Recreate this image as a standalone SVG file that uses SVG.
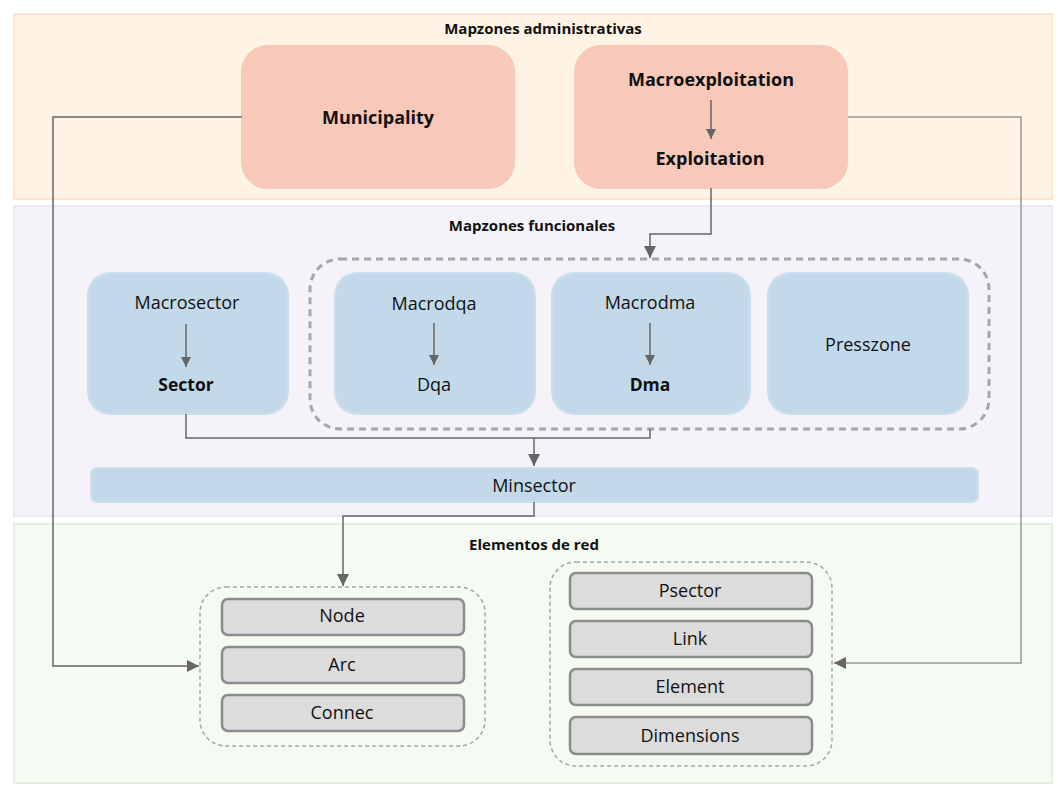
<svg xmlns="http://www.w3.org/2000/svg" width="1058" height="794" viewBox="0 0 1058 794">
<defs>
<marker id="ah" viewBox="0 0 10 10" refX="10" refY="5" markerWidth="10" markerHeight="10" markerUnits="userSpaceOnUse" orient="auto"><path d="M0,0 L10,5 L0,10 z" fill="#666"/></marker>
<marker id="ahs" viewBox="0 0 10 10" refX="10" refY="5" markerWidth="13" markerHeight="12" markerUnits="userSpaceOnUse" orient="auto"><path d="M0,0 L10,5 L0,10 z" fill="#666"/></marker>
<style>
text{font-family:"Open Sans","Liberation Sans",sans-serif;fill:#111;text-anchor:middle;dominant-baseline:central}
.title{font-size:15px;font-weight:bold}
.adm{fill:#f8c8b8;stroke:#f8c8b8;stroke-width:2}
.fun{fill:#c3d9ea;stroke:#cddfee;stroke-width:2}
.el{fill:#dcdcdc;stroke:#8c8c8c;stroke-width:2.5}
.dash{fill:none;stroke:#a6a6a6;stroke-width:3;stroke-dasharray:7 5}
.dash2{fill:none;stroke:#a6a6a6;stroke-width:1.5;stroke-dasharray:4 3}
.big{font-size:18px;font-weight:bold}
.n{font-size:18px}
.b{font-size:17.5px;font-weight:bold}
.c{fill:none;stroke:#666;stroke-width:1.5}
.cg{fill:none;stroke:#999;stroke-width:1.5}
</style>
</defs>
<g id="sec-adm">
<rect x="14" y="14" width="1038" height="185" fill="#fff3e5" stroke="#fde6cc" stroke-width="2"/>
<text class="title" x="543" y="28">Mapzones administrativas</text>
</g>
<g id="sec-fun">
<rect x="14" y="206" width="1038" height="310" fill="#f5f3f9" stroke="#ebe7f3" stroke-width="2"/>
<text class="title" x="532" y="225">Mapzones funcionales</text>
</g>
<g id="sec-red">
<rect x="14" y="524" width="1038" height="259" fill="#f5faf3" stroke="#e2f0dd" stroke-width="2"/>
<text class="title" x="534" y="544">Elementos de red</text>
</g>
<g id="municipality">
<rect class="adm" x="242" y="46" width="272" height="142" rx="26"/>
<text class="big" x="378" y="117">Municipality</text>
</g>
<g id="exploitation">
<rect class="adm" x="575" y="46" width="272" height="142" rx="26" stroke="#fcd3ad"/>
<text class="big" x="711" y="79">Macroexploitation</text>
<text class="big" x="710" y="158">Exploitation</text>
<line class="c" x1="711" y1="100" x2="711" y2="139" marker-end="url(#ah)"/>
</g>
<g id="sector">
<rect class="fun" x="88" y="273" width="200" height="141" rx="22"/>
<text class="n" x="187" y="302">Macrosector</text>
<text class="b" x="186" y="384">Sector</text>
<line class="c" x1="186" y1="324" x2="186" y2="367" marker-end="url(#ah)"/>
</g>
<g id="zones-group">
<rect class="dash" x="310" y="259" width="679" height="170" rx="30"/>
</g>
<g id="dqa">
<rect class="fun" x="335" y="273" width="200" height="141" rx="22"/>
<text class="n" x="434" y="303">Macrodqa</text>
<text class="n" x="434" y="384">Dqa</text>
<line class="c" x1="434" y1="323" x2="434" y2="365" marker-end="url(#ah)"/>
</g>
<g id="dma">
<rect class="fun" x="552" y="273" width="198" height="141" rx="22"/>
<text class="n" x="650" y="302">Macrodma</text>
<text class="b" x="650" y="384">Dma</text>
<line class="c" x1="650" y1="323" x2="650" y2="365" marker-end="url(#ah)"/>
</g>
<g id="presszone">
<rect class="fun" x="768" y="273" width="200" height="141" rx="22"/>
<text class="n" x="868" y="344">Presszone</text>
</g>
<g id="minsector">
<rect class="fun" x="91" y="468" width="887" height="34" rx="6"/>
<text class="n" x="534" y="485">Minsector</text>
</g>
<g id="elements-left">
<rect class="dash2" x="200" y="587" width="285" height="159" rx="26"/>
</g>
<g id="node"><rect class="el" x="222" y="599" width="242" height="36" rx="6"/><text class="n" x="342" y="615">Node</text></g>
<g id="arc"><rect class="el" x="222" y="647" width="242" height="36" rx="6"/><text class="n" x="342" y="664">Arc</text></g>
<g id="connec"><rect class="el" x="222" y="695" width="242" height="36" rx="6"/><text class="n" x="342" y="712">Connec</text></g>
<g id="elements-right">
<rect class="dash2" x="550" y="562" width="282" height="204" rx="26"/>
</g>
<g id="psector"><rect class="el" x="570" y="573" width="242" height="36" rx="6"/><text class="n" x="690" y="590">Psector</text></g>
<g id="link"><rect class="el" x="570" y="621" width="242" height="36" rx="6"/><text class="n" x="690" y="638">Link</text></g>
<g id="element"><rect class="el" x="570" y="669" width="242" height="36" rx="6"/><text class="n" x="690" y="686">Element</text></g>
<g id="dimensions"><rect class="el" x="570" y="717" width="242" height="37" rx="6"/><text class="n" x="690" y="735">Dimensions</text></g>
<g id="connectors">
<polyline class="c" points="242,117 53,117 53,666 199,666" marker-end="url(#ahs)"/>
<polyline class="cg" points="848,117 1021,117 1021,663 834,663" marker-end="url(#ahs)"/>
<polyline class="c" points="711,188 711,234 650,234 650,258" marker-end="url(#ahs)"/>
<polyline class="c" points="186,414 186,438 650,438 650,429"/>
<polyline class="c" points="534,438 534,466" marker-end="url(#ahs)"/>
<polyline class="c" points="534,502 534,516 343,516 343,586" marker-end="url(#ahs)"/>
</g>
</svg>
